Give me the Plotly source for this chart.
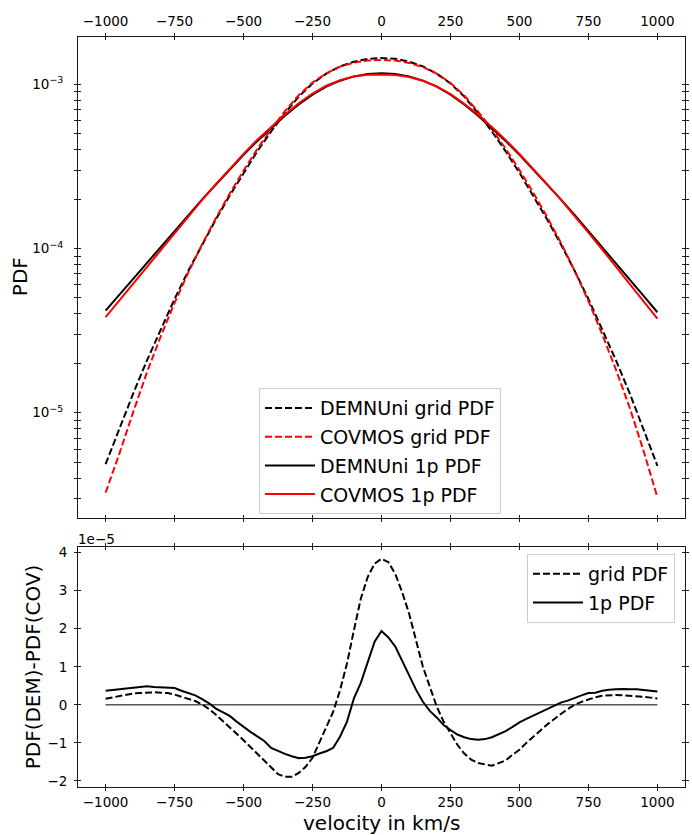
import plotly.graph_objects as go

# ---------------- data ----------------
velocity = [-1000, -950, -900, -850, -800, -750, -700, -650, -600, -550, -500,
            -450, -400, -350, -300, -250, -200, -150, -100, -50, 0,
            50, 100, 150, 200, 250, 300, 350, 400, 450, 500,
            550, 600, 650, 700, 750, 800, 850, 900, 950, 1000]

demnuni_grid = [4.864e-6, 8.035e-6, 1.309e-5, 2.084e-5, 3.243e-5, 4.932e-5, 7.328e-5,
                1.062e-4, 1.507e-4, 2.104e-4, 2.891e-4, 3.908e-4, 5.164e-4, 6.668e-4,
                8.414e-4, 1.012e-3, 1.161e-3, 1.285e-3, 1.374e-3, 1.429e-3, 1.445e-3,
                1.429e-3, 1.374e-3, 1.285e-3, 1.161e-3, 1.012e-3, 8.414e-4, 6.668e-4,
                5.164e-4, 3.908e-4, 2.891e-4, 2.104e-4, 1.507e-4, 1.062e-4, 7.328e-5,
                4.932e-5, 3.243e-5, 2.084e-5, 1.309e-5, 7.943e-6, 4.753e-6]

covmos_grid = [3.264e-6, 5.635e-6, 1.009e-5, 1.764e-5, 2.923e-5, 4.662e-5, 7.158e-5,
               1.061e-4, 1.533e-4, 2.162e-4, 2.984e-4, 4.036e-4, 5.330e-4, 6.857e-4,
               8.593e-4, 1.0259e-3, 1.167e-3, 1.2811e-3, 1.3544e-3, 1.3954e-3, 1.4066e-3,
               1.3946e-3, 1.350e-3, 1.275e-3, 1.1614e-3, 1.0196e-3, 8.542e-4, 6.821e-4,
               5.324e-4, 4.054e-4, 3.009e-4, 2.189e-4, 1.559e-4, 1.086e-4, 7.328e-5,
               4.782e-5, 3.003e-5, 1.824e-5, 1.069e-5, 5.843e-6, 3.053e-6]

demnuni_1p = [4.188e-5, 5.236e-5, 6.546e-5, 8.185e-5, 1.0233e-4, 1.279e-4, 1.600e-4,
              1.991e-4, 2.455e-4, 3.027e-4, 3.715e-4, 4.519e-4, 5.408e-4, 6.427e-4,
              7.534e-4, 8.650e-4, 9.683e-4, 1.052e-3, 1.117e-3, 1.156e-3, 1.167e-3,
              1.156e-3, 1.117e-3, 1.052e-3, 9.683e-4, 8.650e-4, 7.534e-4, 6.427e-4,
              5.408e-4, 4.519e-4, 3.715e-4, 3.027e-4, 2.455e-4, 1.991e-4, 1.600e-4,
              1.279e-4, 1.0233e-4, 8.185e-5, 6.546e-5, 5.152e-5, 4.093e-5]

covmos_1p = [3.818e-5, 4.826e-5, 6.096e-5, 7.695e-5, 9.773e-5, 1.235e-4, 1.569e-4,
             1.976e-4, 2.465e-4, 3.056e-4, 3.773e-4, 4.602e-4, 5.521e-4, 6.556e-4,
             7.674e-4, 8.785e-4, 9.805e-4, 1.0603e-3, 1.1153e-3, 1.1447e-3, 1.1476e-3,
             1.1407e-3, 1.1089e-3, 1.0505e-3, 9.718e-4, 8.718e-4, 7.619e-4, 6.519e-4,
             5.493e-4, 4.588e-4, 3.761e-4, 3.055e-4, 2.465e-4, 1.985e-4, 1.581e-4,
             1.248e-4, 9.863e-5, 7.775e-5, 6.136e-5, 4.762e-5, 3.743e-5]

velocity_fine = [-1000, -975, -950, -925, -900, -875, -850, -825, -800, -775, -750,
                 -725, -700, -675, -650, -625, -600, -575, -550, -525, -500,
                 -475, -450, -425, -400, -375, -350, -325, -300, -275, -250,
                 -225, -200, -175, -150, -125, -100, -75, -50, -25, 0,
                 25, 50, 75, 100, 125, 150, 175, 200, 225, 250,
                 275, 300, 325, 350, 375, 400, 425, 450, 475, 500,
                 525, 550, 575, 600, 625, 650, 675, 700, 725, 750,
                 775, 800, 825, 850, 875, 900, 925, 950, 975, 1000]

# PDF(DEM) - PDF(COV), in units of 1e-5
diff_grid = [0.16, 0.20, 0.24, 0.27, 0.30, 0.31, 0.32, 0.33, 0.32, 0.31, 0.27,
             0.22, 0.17, 0.10, 0.01, -0.11, -0.26, -0.42, -0.58, -0.76, -0.93,
             -1.11, -1.28, -1.47, -1.66, -1.82, -1.89, -1.89, -1.79, -1.63, -1.39,
             -1.00, -0.60, -0.18, 0.39, 1.09, 1.96, 2.79, 3.36, 3.71, 3.84,
             3.75, 3.44, 2.96, 2.40, 1.70, 1.00, 0.48, -0.04, -0.44, -0.76,
             -1.05, -1.28, -1.44, -1.53, -1.57, -1.60, -1.53, -1.46, -1.31, -1.18,
             -1.00, -0.85, -0.68, -0.52, -0.37, -0.24, -0.11, 0.00, 0.08, 0.15,
             0.20, 0.24, 0.25, 0.26, 0.25, 0.24, 0.23, 0.21, 0.19, 0.17]

diff_1p = [0.37, 0.39, 0.41, 0.44, 0.45, 0.48, 0.49, 0.47, 0.46, 0.44, 0.44,
           0.37, 0.31, 0.25, 0.15, 0.04, -0.10, -0.20, -0.29, -0.44, -0.58,
           -0.71, -0.83, -0.95, -1.13, -1.22, -1.29, -1.35, -1.40, -1.39, -1.35,
           -1.28, -1.22, -1.13, -0.83, -0.44, 0.17, 0.58, 1.13, 1.66, 1.94,
           1.77, 1.53, 1.16, 0.78, 0.40, 0.08, -0.16, -0.33, -0.53, -0.66,
           -0.78, -0.85, -0.90, -0.92, -0.90, -0.85, -0.78, -0.69, -0.58, -0.46,
           -0.37, -0.28, -0.19, -0.10, -0.02, 0.06, 0.11, 0.19, 0.25, 0.31,
           0.32, 0.37, 0.40, 0.41, 0.42, 0.41, 0.41, 0.39, 0.37, 0.35]

zero_line_x = [-1000, 1000]
zero_line_y = [0, 0]

x_ticks = [-1000, -750, -500, -250, 0, 250, 500, 750, 1000]
x_ticktext = ["\u22121000", "\u2212750", "\u2212500", "\u2212250", "0", "250", "500", "750", "1000"]
y_top_ticks = [1e-5, 1e-4, 1e-3]
y_top_ticktext = ["10<sup>\u22125</sup>", "10<sup>\u22124</sup>", "10<sup>\u22123</sup>"]
y_top_minor = [3e-6, 4e-6, 5e-6, 6e-6, 7e-6, 8e-6, 9e-6,
               2e-5, 3e-5, 4e-5, 5e-5, 6e-5, 7e-5, 8e-5, 9e-5,
               2e-4, 3e-4, 4e-4, 5e-4, 6e-4, 7e-4, 8e-4, 9e-4]
y_bot_ticks = [-2, -1, 0, 1, 2, 3, 4]
y_bot_ticktext = ["\u22122", "\u22121", "0", "1", "2", "3", "4"]

# ---------------- figure ----------------
W, H = 692, 835
FONT = "DejaVu Sans"
L, R = 78 / W, 685 / W
top_dom = [1 - 517 / H, 1 - 34 / H]
bot_dom = [1 - 788 / H, 1 - 547 / H]
LW = 2.0
DASH = "7px,3px"

fig = go.Figure()

fig.add_trace(go.Scatter(x=velocity, y=demnuni_grid, mode="lines", name="DEMNUni grid PDF",
                         line=dict(color="black", width=LW, dash=DASH),
                         xaxis="x", yaxis="y", legend="legend", legendgroup="a"))
fig.add_trace(go.Scatter(x=velocity, y=covmos_grid, mode="lines", name="COVMOS grid PDF",
                         line=dict(color="red", width=LW, dash=DASH),
                         xaxis="x", yaxis="y", legend="legend", legendgroup="b"))
fig.add_trace(go.Scatter(x=velocity, y=demnuni_1p, mode="lines", name="DEMNUni 1p PDF",
                         line=dict(color="black", width=LW),
                         xaxis="x", yaxis="y", legend="legend", legendgroup="c"))
fig.add_trace(go.Scatter(x=velocity, y=covmos_1p, mode="lines", name="COVMOS 1p PDF",
                         line=dict(color="red", width=LW),
                         xaxis="x", yaxis="y", legend="legend", legendgroup="d"))

fig.add_trace(go.Scatter(x=velocity_fine, y=diff_grid, mode="lines", name="grid PDF",
                         line=dict(color="black", width=LW, dash=DASH),
                         xaxis="x2", yaxis="y2", legend="legend2", legendgroup="e"))
fig.add_trace(go.Scatter(x=velocity_fine, y=diff_1p, mode="lines", name="1p PDF",
                         line=dict(color="black", width=LW),
                         xaxis="x2", yaxis="y2", legend="legend2", legendgroup="f"))
fig.add_trace(go.Scatter(x=zero_line_x, y=zero_line_y, mode="lines", showlegend=False,
                         line=dict(color="black", width=1), xaxis="x2", yaxis="y2"))

# dummy traces for the overlay axes (inward half of the ticks)
fig.add_trace(go.Scatter(x=[None], y=[None], showlegend=False, xaxis="x3", yaxis="y3", hoverinfo="skip"))
fig.add_trace(go.Scatter(x=[None], y=[None], showlegend=False, xaxis="x4", yaxis="y4", hoverinfo="skip"))

axcol = "#1a1a1a"
tickfont = dict(family=FONT, size=13.5, color="black")
common = dict(showgrid=False, zeroline=False, tickcolor=axcol, tickwidth=1, ticklen=3)

y_top_range = [-5.638, -2.711]
y_bot_range = [-2.165, 4.139]
x_range = [-1100, 1100]

legend_style = dict(xanchor="left", yanchor="top",
                    bgcolor="rgba(255,255,255,0.8)", bordercolor="#cccccc", borderwidth=1,
                    font=dict(family=FONT, size=19, color="black"),
                    tracegroupgap=1, itemwidth=50)

fig.update_layout(
    width=W, height=H, margin=dict(l=0, r=0, t=0, b=0),
    paper_bgcolor="white", plot_bgcolor="white",
    font=dict(family=FONT, color="black"),
    xaxis=dict(domain=[L, R], anchor="y", side="top", range=x_range,
               tickvals=x_ticks, ticktext=x_ticktext, ticks="outside", mirror="allticks",
               showline=True, linecolor=axcol, linewidth=1, tickfont=tickfont,
               ticklabelstandoff=1, **common),
    yaxis=dict(domain=top_dom, anchor="x", type="log", range=y_top_range,
               tickvals=y_top_ticks, ticktext=y_top_ticktext, ticks="outside", mirror="allticks",
               showline=True, linecolor=axcol, linewidth=1, tickfont=tickfont,
               ticklabelstandoff=8,
               minor=dict(tickvals=y_top_minor, ticks="outside", ticklen=3, tickcolor=axcol,
                          tickwidth=1, showgrid=False),
               **common),
    xaxis3=dict(domain=[L, R], anchor="y3", overlaying="x", side="top", range=x_range,
                tickvals=x_ticks, ticks="inside", mirror="allticks", showticklabels=False,
                showline=False, **common),
    yaxis3=dict(domain=top_dom, anchor="x3", overlaying="y", type="log", range=y_top_range,
                tickvals=y_top_ticks, ticks="inside", mirror="allticks", showticklabels=False,
                showline=False,
                minor=dict(tickvals=y_top_minor, ticks="inside", ticklen=3, tickcolor=axcol,
                           tickwidth=1, showgrid=False),
                **common),
    xaxis2=dict(domain=[L, R], anchor="y2", side="bottom", range=x_range,
                tickvals=x_ticks, ticktext=x_ticktext, ticks="outside", mirror="allticks",
                showline=True, linecolor=axcol, linewidth=1, tickfont=tickfont,
                ticklabelstandoff=0, **common),
    yaxis2=dict(domain=bot_dom, anchor="x2", range=y_bot_range,
                tickvals=y_bot_ticks, ticktext=y_bot_ticktext, ticks="outside", mirror="allticks",
                showline=True, linecolor=axcol, linewidth=1, tickfont=tickfont,
                ticklabelstandoff=4, **common),
    xaxis4=dict(domain=[L, R], anchor="y4", overlaying="x2", side="bottom", range=x_range,
                tickvals=x_ticks, ticks="inside", mirror="allticks", showticklabels=False,
                showline=False, **common),
    yaxis4=dict(domain=bot_dom, anchor="x4", overlaying="y2", range=y_bot_range,
                tickvals=y_bot_ticks, ticks="inside", mirror="allticks", showticklabels=False,
                showline=False, **common),
    legend=dict(x=259 / W, y=1 - 387 / H, **legend_style),
    legend2=dict(x=527 / W, y=1 - 553.5 / H, **legend_style),
    annotations=[
        dict(text="PDF", x=20 / W, y=1 - 275.5 / H, xref="paper", yref="paper",
             textangle=-90, showarrow=False, xanchor="center", yanchor="middle",
             font=dict(family=FONT, size=20, color="black")),
        dict(text="PDF(DEM)-PDF(COV)", x=33 / W, y=1 - 667.5 / H, xref="paper", yref="paper",
             textangle=-90, showarrow=False, xanchor="center", yanchor="middle",
             font=dict(family=FONT, size=20, color="black")),
        dict(text="velocity in km/s", x=381.5 / W, y=1 - 823.5 / H, xref="paper", yref="paper",
             showarrow=False, xanchor="center", yanchor="middle",
             font=dict(family=FONT, size=20, color="black")),
        dict(text="1e\u22125", x=76 / W, y=1 - 539 / H, xref="paper", yref="paper",
             showarrow=False, xanchor="left", yanchor="middle",
             font=dict(family=FONT, size=13.5, color="black")),
    ],
)

fig.write_html("out.html")
